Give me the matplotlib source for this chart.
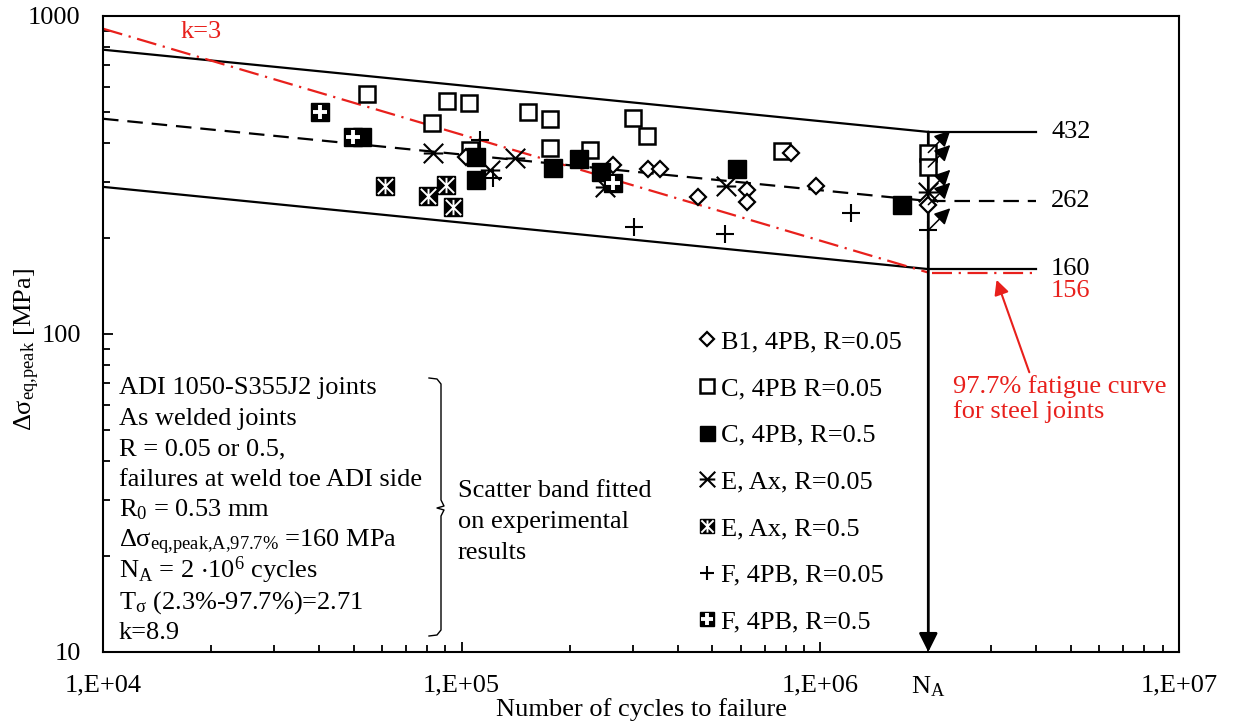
import numpy as np
import matplotlib
matplotlib.use('Agg')
import matplotlib.pyplot as plt
from matplotlib.path import Path
from matplotlib.lines import Line2D

plt.rcParams['font.family'] = ['Liberation Serif', 'DejaVu Serif']
plt.rcParams['font.size'] = 19
plt.rcParams['mathtext.fontset'] = 'custom'
plt.rcParams['mathtext.rm'] = 'Liberation Serif'
plt.rcParams['mathtext.it'] = 'Liberation Serif:italic'

W, H = 1233, 724

# test data (cycles, stress range MPa)
b1_n = [102600, 263400, 331800, 358400, 454500, 626000, 626000, 830500, 974800]
b1_s = [361, 340, 330, 330, 270, 284, 260, 371, 292]

c05_n = [54400, 82500, 90800, 104600, 105300, 152700, 175900, 175900, 227300, 299500, 327600, 784000]
c05_s = [568, 461, 540, 532, 379, 499, 474, 385, 379, 478, 419, 376]

c5_n = [52600, 109400, 109400, 179300, 211800, 243900, 587200, 1692000]
c5_s = [416, 360, 305, 333, 355, 323, 330, 255]

e05_n = [83000, 119700, 140500, 250200, 547300]
e05_s = [371, 328, 358, 290, 292]

e5_n = [61000, 80400, 90300, 94400]
e5_s = [292, 272, 294, 251]

f05_n = [112200, 122000, 301400, 543800, 1220000]
f05_s = [408, 310, 217, 206, 240]

f5_n = [40200, 49700, 263400]
f5_s = [499, 416, 298]

# run-outs at N_A
N_A = 2e6
runout_c05 = [372, 335]
runout_e05 = [280]
runout_b1 = [255]
runout_f05 = [212]

# scatter band and steel curve
k_band = 8.9
band_upper, band_mean, band_lower = 432, 262, 160
k_steel = 3
steel_A = 156
N_start, N_end = 1e4, 4e6

legend_labels = ['B1, 4PB, R=0.05', 'C, 4PB R=0.05', 'C, 4PB, R=0.5', 'E, Ax, R=0.05',
                 'E, Ax, R=0.5', 'F, 4PB, R=0.05', 'F, 4PB, R=0.5']


def fx(px):
    return px / W


def fy(py):
    return 1 - py / H


fig = plt.figure(figsize=(W / 100, H / 100), dpi=100)
ax = fig.add_axes([fx(103), fy(652), (1179 - 103) / W, (652 - 16) / H])
ax.set_xscale('log')
ax.set_yscale('log')
ax.set_xlim(1e4, 1e7)
ax.set_ylim(10, 1000)

# band lines
for s_a, ls in [(band_upper, '-'), (band_mean, (0, (7, 4))), (band_lower, '-')]:
    s0 = s_a * (N_A / N_start) ** (1 / k_band)
    ax.plot([N_start, N_A], [s0, s_a], color='k', lw=1.6, ls=ls, zorder=2)
    ax.plot([2.02e6, N_end], [s_a, s_a], color='k', lw=1.6, ls=ls, zorder=2)
    ax.text(4.4e6, s_a, str(s_a), va='center', ha='left', color='k')

s0 = steel_A * (N_A / N_start) ** (1 / k_steel)
red = '#e8201c'
ax.plot([N_start, N_A], [s0, steel_A], color=red, lw=1.6, ls=(0, (9, 3, 1, 3)), zorder=2)
ax.plot([2.05e6, N_end], [steel_A, steel_A], color=red, lw=1.6, ls=(0, (9, 3, 1, 3)), zorder=2)
ax.text(4.4e6, 137, str(steel_A), va='center', ha='left', color=red)
ax.text(1.64e4, 890, 'k=3', color=red, ha='left', va='center')

# N_A vertical arrow
ax.annotate('', xy=(N_A, 10), xytext=(N_A, band_upper),
            arrowprops=dict(arrowstyle='-|>', color='k', lw=2.0, mutation_scale=28,
                            shrinkA=0, shrinkB=0), zorder=3)

# markers
star_path = Path([(-1, -1), (1, 1), (-1, 1), (1, -1), (-1, 0), (1, 0)],
                 [Path.MOVETO, Path.LINETO] * 3)
xbox_path = Path([(-1, -1), (1, 1), (-1, 1), (1, -1), (0, -1), (0, 1)],
                 [Path.MOVETO, Path.LINETO] * 3)

st_b1 = dict(ls='none', marker='D', ms=8.6, mfc='white', mec='k', mew=1.6)
st_c05 = dict(ls='none', marker='s', ms=12, mfc='white', mec='k', mew=1.8)
st_c5 = dict(ls='none', marker='s', ms=13.5, mfc='k', mec='k', mew=1)
st_e05 = dict(ls='none', marker=star_path, ms=14, mfc='none', mec='k', mew=1.5)
st_e5a = dict(ls='none', marker='s', ms=13, mfc='k', mec='k', mew=1)
st_e5b = dict(ls='none', marker=xbox_path, ms=11, mfc='none', mec='white', mew=1.4)
st_f05 = dict(ls='none', marker='+', ms=13, mec='k', mew=1.5)
st_f5a = dict(ls='none', marker='s', ms=13, mfc='k', mec='k', mew=1)
st_f5b = dict(ls='none', marker='+', ms=10, mec='white', mew=2.8)

ax.plot(c05_n, c05_s, zorder=4, **st_c05)
ax.plot([N_A] * len(runout_c05), runout_c05, zorder=4, **st_c05)
ax.plot(b1_n, b1_s, zorder=4, **st_b1)
ax.plot([N_A] * len(runout_b1), runout_b1, zorder=4, **st_b1)
ax.plot(e05_n, e05_s, zorder=5, **st_e05)
ax.plot([N_A] * len(runout_e05), runout_e05, zorder=5, **st_e05)
ax.plot(f05_n, f05_s, zorder=5, **st_f05)
ax.plot([N_A] * len(runout_f05), runout_f05, zorder=5, **st_f05)
ax.plot(c5_n, c5_s, zorder=6, **st_c5)
ax.plot(e5_n, e5_s, zorder=6, **st_e5a)
ax.plot(e5_n, e5_s, zorder=7, **st_e5b)
ax.plot(f5_n, f5_s, zorder=6, **st_f5a)
ax.plot(f5_n, f5_s, zorder=7, **st_f5b)

# run-out arrows
for s in runout_c05 + runout_e05 + runout_b1 + runout_f05:
    ax.annotate('', xy=(N_A * 10 ** (22 / 359), s * 10 ** (22 / 318)), xytext=(N_A, s),
                arrowprops=dict(arrowstyle='-|>', color='k', lw=1.1, mutation_scale=24,
                                shrinkA=0, shrinkB=0), zorder=8)

# red annotation
ax.annotate('97.7% fatigue curve\nfor steel joints', xy=(3.1e6, 148), xytext=(2.35e6, 62.5),
            color=red, ha='left', va='center', linespacing=1.1,
            arrowprops=dict(arrowstyle='-|>', color=red, lw=1.5, mutation_scale=22,
                            shrinkA=0, shrinkB=0, relpos=(0.36, 1.0)))

# axes styling
for sp in ax.spines.values():
    sp.set_linewidth(1.5)
ax.set_xticks([1e4, 1e5, 1e6, N_A, 1e7])
ax.set_xticklabels(['1,E+04', '1,E+05', '1,E+06', r'$\mathregular{N_A}$', '1,E+07'])
ax.set_yticks([10, 100, 1000])
ax.set_yticklabels(['10', '100', '1000'])
ax.tick_params(which='major', direction='in', length=7, width=1.3, pad=16)
ax.tick_params(which='minor', direction='in', length=5, width=1.3)
ax.tick_params(axis='x', which='major', pad=16)
ax.xaxis.set_minor_formatter(plt.NullFormatter())
ax.yaxis.set_minor_formatter(plt.NullFormatter())

fig.text(fx(641), fy(710), 'Number of cycles to failure', ha='center', va='center')
fig.text(fx(27), fy(350), r'$\mathregular{Δσ_{eq{,}peak}}$ [MPa]', rotation=90,
         ha='center', va='center')

# left info text
info = ['ADI 1050-S355J2 joints',
        'As welded joints',
        'R = 0.05 or 0.5,',
        'failures at weld toe ADI side',
        r'$\mathregular{R_0}$ = 0.53 mm',
        r'$\mathregular{Δσ_{eq{,}peak{,}A{,}97.7\%}}$ =160 MPa',
        r'$\mathregular{N_A}$ = 2 $\mathregular{\cdot 10^6}$ cycles',
        r'$\mathregular{T_σ}$ (2.3%-97.7%)=2.71',
        'k=8.9']
for i, line in enumerate(info):
    fig.text(fx(119), fy(394 + i * 30.6), line, ha='left', va='baseline')

for i, line in enumerate(['Scatter band fitted', 'on experimental', 'results']):
    fig.text(fx(458), fy(497 + i * 31), line, ha='left', va='baseline')

# curly brace
bx = np.array([429, 437, 441, 441, 444, 437, 444, 441, 441, 437, 429])
by = np.array([378, 379, 384, 500, 506, 508, 510, 516, 630, 635, 636])
fig.add_artist(Line2D(fx(bx), fy(by), color='k', lw=1.0, transform=fig.transFigure))

# legend
handles = [Line2D([], [], **st_b1), Line2D([], [], **st_c05), Line2D([], [], **st_c5),
           Line2D([], [], **st_e05), (Line2D([], [], **st_e5a), Line2D([], [], **st_e5b)),
           Line2D([], [], **st_f05), (Line2D([], [], **st_f5a), Line2D([], [], **st_f5b))]
ax.legend(handles, legend_labels, loc='upper left', bbox_to_anchor=(fx(697), fy(330)),
          bbox_transform=fig.transFigure, frameon=False, handlelength=0.75,
          handletextpad=0.15, labelspacing=0.88, markerscale=0.8, borderpad=0,
          borderaxespad=0)

fig.savefig('out.png', dpi=100)
